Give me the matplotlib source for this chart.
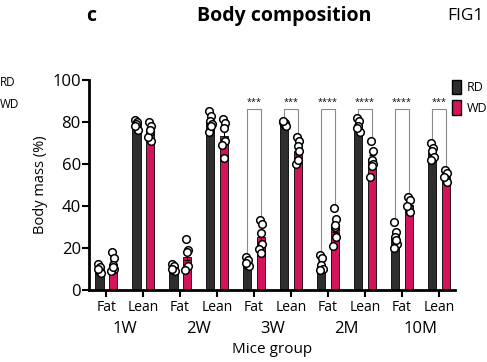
import numpy as np
import matplotlib
matplotlib.use("Agg")
import matplotlib.pyplot as plt
from matplotlib.patches import Patch

plt.rcParams['font.family'] = ['Open Sans', 'DejaVu Sans']

# datos
grupos = ["1W", "2W", "3W", "2M", "10M"]
tejidos = ["Fat", "Lean"]

rd_fat = [10, 10, 13, 11, 25.5]
wd_fat = [11, 15.5, 25, 30, 40.5]
rd_lean = [80, 80, 79, 77, 65]
wd_lean = [74.5, 73.5, 66, 62.5, 54]

rd_fat_pts = [[12.5, 11, 9, 8, 10], [12.5, 11.5, 9.5, 9, 10], [15.5, 14.5, 12, 11.5, 13],
              [16.5, 15, 12, 10, 9.5], [32.5, 27.5, 25, 22, 20, 24]]
wd_fat_pts = [[18, 15, 12, 10, 9, 11], [24.5, 19, 18, 11.5, 9.5], [33.5, 31.5, 27, 22, 19.5, 17.5],
              [39, 34, 30, 25, 21, 31], [44.5, 43, 39, 37, 40]]
rd_lean_pts = [[81, 80, 79, 76, 78], [85, 83, 80.5, 79, 75, 78], [80, 79.5, 79, 78, 80.5],
               [82, 80.5, 78, 75, 77], [70, 67.5, 66, 63.5, 62]]
wd_lean_pts = [[80, 78, 75, 71, 73, 76], [81.5, 79.5, 77, 71, 69, 63], [73, 71, 68.5, 66, 60, 62],
               [71, 66, 62, 60, 54, 59], [57, 55.5, 53, 51.5, 54]]

# significancia (indice de categoria, estrellas)
sig_idx = [4, 5, 6, 7, 8, 9]
sig_txt = ["***", "***", "****", "****", "****", "***"]

# intercalar Fat / Lean por grupo
rd_vals, wd_vals, rd_pts, wd_pts, etiquetas = [], [], [], [], []
for g in range(len(grupos)):
    rd_vals += [rd_fat[g], rd_lean[g]]
    wd_vals += [wd_fat[g], wd_lean[g]]
    rd_pts += [rd_fat_pts[g], rd_lean_pts[g]]
    wd_pts += [wd_fat_pts[g], wd_lean_pts[g]]
    etiquetas += tejidos

col_rd = "#2e2e2e"
col_wd = "#d4145a"

fig = plt.figure(figsize=(4.87, 3.62), dpi=100)
ax = fig.add_axes([0.183, 0.199, 0.751, 0.58])

x = np.arange(len(etiquetas))
off = 0.185
w = 0.23
ax.bar(x - off, rd_vals, w, color=col_rd, edgecolor="black", linewidth=0.6, zorder=2)
ax.bar(x + off, wd_vals, w, color=col_wd, edgecolor="black", linewidth=0.6, zorder=2)

jit = [-0.03, 0.03, 0.0, 0.04, -0.04, 0.01]
for i in range(len(x)):
    for pts, xc in [(rd_pts[i], x[i] - off), (wd_pts[i], x[i] + off)]:
        pts = np.array(pts)
        sem = pts.std() / np.sqrt(len(pts))
        ax.errorbar(xc, pts.mean(), yerr=sem, color="black", lw=0.8, capsize=2, zorder=3)
        ax.scatter(xc + np.array(jit[:len(pts)]), pts, s=30, facecolor="white",
                   edgecolor="black", linewidth=1.1, zorder=4)

# corchetes de significancia
top = 86.3
for i, t in zip(sig_idx, sig_txt):
    y1 = max(rd_pts[i]) + 1.2
    y2 = max(wd_pts[i]) + 1.2
    ax.plot([x[i] - off, x[i] - off, x[i] + off, x[i] + off], [y1, top, top, y2],
            color="#8a8a8a", lw=0.8, zorder=1)
    ax.text(x[i], top + 1.0, t, ha="center", va="bottom", fontsize=6.5)

ax.set_xlim(-0.46, 9.43)
ax.set_ylim(0, 100)
ax.set_yticks([0, 20, 40, 60, 80, 100])
ax.set_xticks(x)
ax.set_xticklabels(etiquetas, fontsize=10)
ax.tick_params(axis="y", labelsize=12, width=1.5, length=5, pad=1)
ax.tick_params(axis="x", width=1.5, length=5, pad=2)
for s in ["top", "right"]:
    ax.spines[s].set_visible(False)
for s in ["left", "bottom"]:
    ax.spines[s].set_linewidth(2)

for g, nombre in enumerate(grupos):
    ax.text(2 * g + 0.5, -0.185, nombre, transform=ax.get_xaxis_transform(),
            ha="center", va="center", fontsize=12)
ax.set_xlabel("Mice group", fontsize=11, labelpad=20)
ax.set_ylabel("Body mass (%)", fontsize=10.5, labelpad=3)

handles = [Patch(facecolor=col_rd, edgecolor="black", label="RD"),
           Patch(facecolor=col_wd, edgecolor="black", label="WD")]
fig.legend(handles=handles, loc="upper left", bbox_to_anchor=(0.928, 0.78), frameon=False,
           fontsize=9, handlelength=0.7, handleheight=1.4, handletextpad=0.5,
           borderpad=0, borderaxespad=0, labelspacing=0.5)

fig.text(0.0, 1 - 82 / 362, "RD", fontsize=8.5, va="center", ha="left")
fig.text(0.0, 1 - 104 / 362, "WD", fontsize=8.5, va="center", ha="left")

fig.text(0.583, 1 - 16 / 362, "Body composition", fontsize=14, fontweight="bold", ha="center", va="center")
fig.text(0.187, 1 - 16 / 362, "c", fontsize=14, fontweight="bold", ha="center", va="center")
fig.text(0.994, 1 - 16 / 362, "FIG1", fontsize=12.5, ha="right", va="center")

fig.savefig("out.png", dpi=100)
